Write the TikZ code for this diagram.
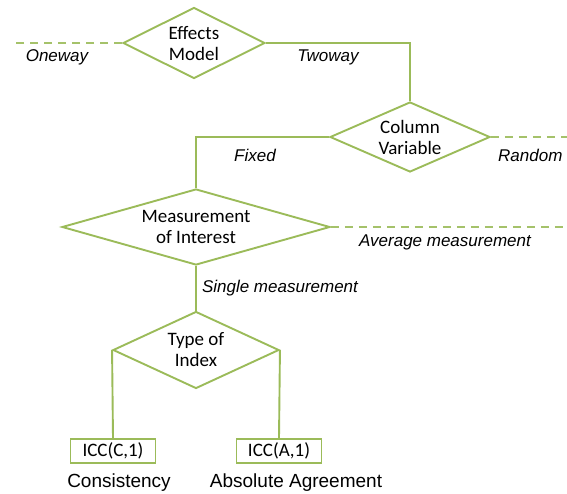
\documentclass[tikz,border=0pt]{standalone}
\usepackage{fontspec}
\setmainfont{Carlito}
\newfontfamily\arialfont{Liberation Sans}
\usetikzlibrary{shapes.geometric}
\definecolor{leaf}{HTML}{9BBB59}
\tikzset{
  choice/.style={diamond, draw=leaf, line width=1.9pt, inner sep=0pt,
    align=center, font=\fontsize{19}{21}\selectfont},
  result/.style={draw=leaf, line width=1.9pt, minimum width=85pt,
    minimum height=24pt, inner sep=0pt, font=\fontsize{19}{21}\selectfont},
  branch/.style={font=\arialfont\itshape\fontsize{17}{20}\selectfont},
  caption/.style={font=\arialfont\fontsize{19}{22}\selectfont},
  link/.style={draw=leaf, line width=1.9pt},
  dropped/.style={draw=leaf!90, line width=2.6pt, dash pattern=on 8pt off 6pt}
}
\begin{document}
\begin{tikzpicture}[x=1pt,y=-1pt]
  \useasboundingbox (0,0) rectangle (567,493);

  % decisions
  \node[choice, minimum width=142pt, minimum height=71pt, aspect=2] (effects) at (194,43) {Effects\\Model};
  \node[choice, minimum width=160pt, minimum height=70pt, aspect=2.3] (column) at (410,137) {Column\\Variable};
  \node[choice, minimum width=268pt, minimum height=76pt, aspect=3.5] (measure) at (196,227) {Measurement\\of Interest};
  \node[choice, minimum width=166pt, minimum height=77pt, aspect=2.15] (index) at (196,350) {Type of\\Index};

  % outcomes
  \node[result] (iccc) at (113,451) {ICC(C,1)};
  \node[result] (icca) at (279,451) {ICC(A,1)};
  \node[caption] (cons) at (119,483) {Consistency};
  \node[caption] (absa) at (296,483) {Absolute Agreement};

  % loose ends
  \coordinate (oneend) at (12,43);
  \coordinate (randend) at (570,137);
  \coordinate (avgend) at (563,227);

  \draw[dropped] (effects.west) -- (oneend);
  \draw[dropped] (column.east) -- (randend);
  \draw[dropped] (measure.east) -- (avgend);

  \draw[link] (effects.east) -| (column.north);
  \draw[link] (column.west) -| (measure.north);
  \draw[link] (measure.south) -- (index.north);
  \draw[link] (index.west) -- (iccc.north);
  \draw[link] (index.east) -- (icca.north);

  % branch labels
  \node[branch] (oneway) at (57,57) {Oneway};
  \node[branch] (twoway) at (328,57) {Twoway};
  \node[branch] (fixed) at (255,155) {Fixed};
  \node[branch, anchor=east] (random) at (566,155) {Random};
  \node[branch] (average) at (445,242) {Average measurement};
  \node[branch] (single) at (280,288) {Single measurement};
\end{tikzpicture}
\end{document}
